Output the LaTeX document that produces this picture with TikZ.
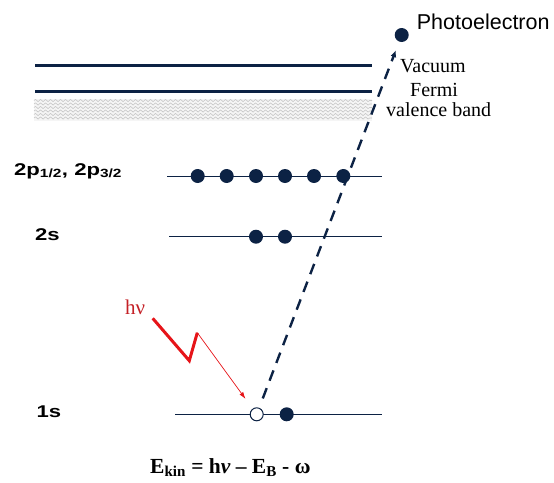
\documentclass[tikz,border=0pt]{standalone}
\usepackage{fontspec}
\setmainfont{Liberation Serif}
\newfontfamily\levelfont[FakeStretch=1.3]{Liberation Sans}
\newfontfamily\plainsans{Liberation Sans}
\usetikzlibrary{arrows.meta,decorations.pathmorphing}
\definecolor{navy}{RGB}{12,34,68}
\definecolor{photonred}{RGB}{230,20,25}
\definecolor{labelred}{RGB}{196,32,38}

\begin{document}
\begin{tikzpicture}[x=1pt,y=-1pt,
	dot/.style={circle,fill=navy,inner sep=0pt,minimum size=14pt},
	hole/.style={circle,draw=navy,fill=white,line width=1pt,inner sep=0pt,minimum size=13pt},
	level/.style={draw=navy,line width=.9pt},
	edgeline/.style={draw=navy,line width=2.6pt},
	lbl/.style={anchor=base west,inner sep=0pt,font=\levelfont\bfseries\fontsize{17}{20}\selectfont},
	txt/.style={anchor=base west,inner sep=0pt,font=\fontsize{20}{22}\selectfont}]
	
	\useasboundingbox (0,0) rectangle (554,482);
	
	% ---- Vacuum and Fermi edges ----
	\foreach \name/\y in {vac/65.7,fermi/91.7}
	{
		\coordinate (\name-a) at (35,\y);
		\coordinate (\name-b) at (372,\y);
		\draw[edgeline] (\name-a) -- (\name-b);
	}
	
	% ---- Valence band ----
	\fill[gray!8] (34,99) rectangle (372,121);
	\foreach \y in {100.5,104,...,119}
	\draw[gray!45,line width=.6pt,decorate,decoration={snake,segment length=5pt,amplitude=1.1pt}] (34,\y) -- (372,\y);
	
	% ---- Core levels ----
	\foreach \name/\y/\xa in {tp/176/167,ts/236.7/169,os/414.3/175}
	{
		\coordinate (\name-a) at (\xa,\y);
		\coordinate (\name-b) at (382,\y);
		\draw[level] (\name-a) -- (\name-b);
	}
	
	% ---- Electrons ----
	\foreach \i/\x in {1/197.7,2/226.7,3/256,4/285,5/314,6/343.3}
	\node[dot] (p\i) at (\x,176) {};
	\foreach \i/\x in {1/256,2/285}
	\node[dot] (s\i) at (\x,236.7) {};
	\node[hole] (hole) at (256.7,414.3) {};
	\node[dot] (k2) at (286.7,414.3) {};
	\node[dot] (photo) at (401.7,35) {};
	
	% ---- Labels ----
	\node[lbl] (l2p) at (14,175) {2p\textsubscript{1/2}, 2p\textsubscript{3/2}};
	\node[lbl] (l2s) at (35,240.7) {2s};
	\node[lbl] (l1s) at (36.5,417.3) {1s};
	\node[anchor=base west,inner sep=0pt,font=\plainsans\fontsize{21.5}{24}\selectfont] (lphoto) at (416.7,29.3) {Photoelectron};
	\node[txt] (lvac) at (400,72.3) {Vacuum};
	\node[txt] (lfermi) at (410,96.2) {Fermi};
	\node[txt] (lval) at (386,116) {valence band};
	
	% ---- Photon ----
	\node[txt,text=labelred,font=\fontsize{21}{22}\selectfont] (hnu) at (125,314) {hν};
	\coordinate (ph0) at (152.7,318.3);
	\coordinate (ph1) at (189.3,360.7);
	\coordinate (ph2) at (197.3,332.7);
	\draw[photonred,line width=3pt,line join=miter] (ph0) -- (ph1) -- (ph2);
	\draw[photonred,line width=.7pt,-{Latex[length=7pt,width=4.5pt]},shorten >=12pt] (ph2) -- (hole);
	
	% ---- Escaping electron ----
	\draw[navy,line width=2.4pt,dash pattern=on 11pt off 8pt,shorten <=10pt,shorten >=9pt,-{Latex[length=7pt,width=6pt]}] (hole) -- (photo);
	
	% ---- Kinetic energy ----
	\node[anchor=base west,inner sep=0pt,font=\bfseries\fontsize{21.5}{24}\selectfont] (ekin) at (150,473) {E\textsubscript{kin} = h{\itshape ν} – E\textsubscript{B} - ω};
	
\end{tikzpicture}
\end{document}
